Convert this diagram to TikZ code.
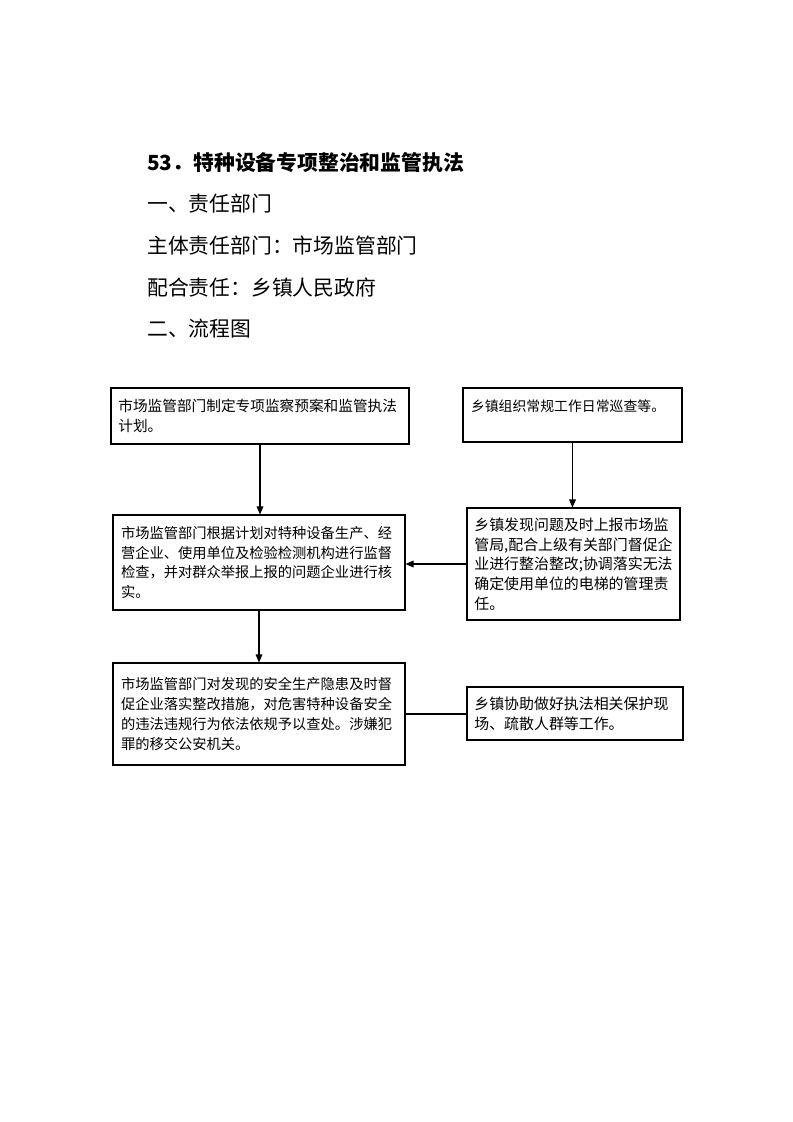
\documentclass[tikz,border=0pt]{standalone}
\usepackage{fontspec}
\usetikzlibrary{arrows.meta}
\newfontfamily\cjk{Noto Sans CJK SC}
\newcommand{\bx}[1]{\cjk\fontsize{#1}{14.8pt}\selectfont}
\newcommand{\hd}{\cjk\fontsize{15.6pt}{20pt}\selectfont}

\begin{document}
\begin{tikzpicture}[x=0.75pt,y=-0.75pt,
   flowbox/.style={draw,line width=0.8pt,inner xsep=6pt,align=left,font=\bx{10.7pt}},
   title/.style={anchor=base west,inner sep=0pt,font=\hd},
   arr/.style={-{Triangle[length=6pt,width=5pt]},line width=0.8pt}]
   \useasboundingbox (0,0) rectangle (793,1122);
   % headings
   \node[title,font=\hd\bfseries] (t1) at (147,170) {53．特种设备专项整治和监管执法};
   \node[title] (t2) at (147,211) {一、责任部门};
   \node[title] (t3) at (147,253) {主体责任部门：市场监管部门};
   \node[title] (t4) at (147,295) {配合责任：乡镇人民政府};
   \node[title] (t5) at (147,336) {二、流程图};
   % boxes
   \node[flowbox,font=\bx{11pt},inner xsep=5.5pt,minimum width=223.5pt,minimum height=42pt,text width=212.5pt] (plan) at (260,416)
      {市场监管部门制定专项监察预案和监管执法\\计划。};
   \node[flowbox,font=\bx{10.4pt},minimum width=164.25pt,minimum height=40.5pt,text width=152.25pt] (patrol) at (572.5,415)
      {乡镇组织常规工作日常巡查等。\\\mbox{}};
   \node[flowbox,minimum width=219pt,minimum height=71.25pt,text width=207pt] (check) at (259,562.5)
      {市场监管部门根据计划对特种设备生产、经\\营企业、使用单位及检验检测机构进行监督\\检查，并对群众举报上报的问题企业进行核\\实。};
   \node[flowbox,font=\bx{11.2pt},inner xsep=5.5pt,minimum width=159.75pt,minimum height=84pt,text width=148.75pt] (report) at (573.5,564)
      {乡镇发现问题及时上报市场监\\管局,配合上级有关部门督促企\\业进行整治整改;协调落实无法\\确定使用单位的电梯的管理责\\任。};
   \node[flowbox,minimum width=219pt,minimum height=76.5pt,text width=207pt] (handle) at (259,714)
      {市场监管部门对发现的安全生产隐患及时督\\促企业落实整改措施，对危害特种设备安全\\的违法违规行为依法依规予以查处。涉嫌犯\\罪的移交公安机关。};
   \node[flowbox,font=\bx{11.2pt},inner xsep=5.5pt,minimum width=162pt,minimum height=39.75pt,text width=151pt] (assist) at (575,713.5)
      {乡镇协助做好执法相关保护现\\场、疏散人群等工作。};
   % connectors
   \draw[arr] (plan.south) -- (plan.south |- check.north);
   \draw[arr] (patrol.south) -- (patrol.south |- report.north);
   \draw[arr] (report.west) -- (check.east |- report.west);
   \draw[arr] (check.south) -- (handle.north);
   \draw[line width=0.8pt] (handle.east) -- (handle.east -| assist.west);
\end{tikzpicture}
\end{document}
